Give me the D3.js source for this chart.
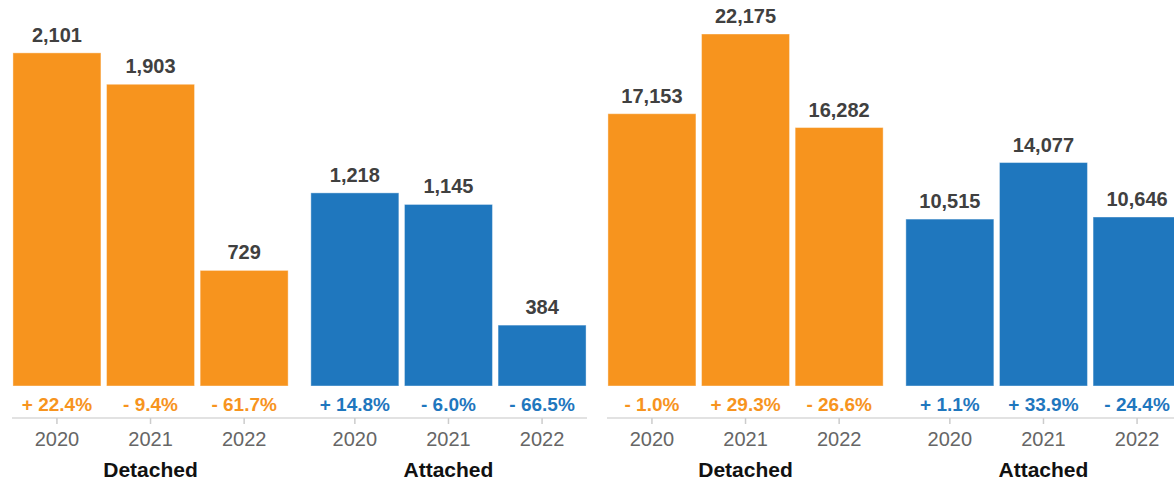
<!DOCTYPE html>
<html>
<head>
<meta charset="utf-8">
<script src="https://cdn.jsdelivr.net/npm/d3@7"></script>
<style>
  body { margin: 0; background: #fff; }
  svg { display: block; font-family: "Liberation Sans", Arial, Helvetica, sans-serif; }
</style>
</head>
<body>
<svg id="chart"></svg>
<script>
/*******************
 * Data
 *******************/
const years = ["2020", "2021", "2022"];
const types = ["Detached", "Attached"];

// left panel
const leftDetached = [2101, 1903, 729];
const leftAttached = [1218, 1145, 384];
const leftDetachedPct = ["+ 22.4%", "- 9.4%", "- 61.7%"];
const leftAttachedPct = ["+ 14.8%", "- 6.0%", "- 66.5%"];

// right panel
const rightDetached = [17153, 22175, 16282];
const rightAttached = [10515, 14077, 10646];
const rightDetachedPct = ["- 1.0%", "+ 29.3%", "- 26.6%"];
const rightAttachedPct = ["+ 1.1%", "+ 33.9%", "- 24.4%"];

const panelMax = [2220, 22175];

/*******************
 * Setup
 *******************/
const W = 1174, H = 482;
const colors = { Detached: "#F7941E", Attached: "#1F77BE" };

const svg = d3.select("#chart").attr("width", W).attr("height", H);

const panels = [
  { x: 12, max: panelMax[0], values: [leftDetached, leftAttached], pcts: [leftDetachedPct, leftAttachedPct] },
  { x: 607, max: panelMax[1], values: [rightDetached, rightAttached], pcts: [rightDetachedPct, rightAttachedPct] }
];

const panelWidth = 575;
const baseY = 386, topY = 34, axisY = 418;

const x0 = d3.scaleBand().domain(types).range([0, panelWidth]).paddingInner(0.07).paddingOuter(0);
const x1 = d3.scaleBand().domain(years).range([0, x0.bandwidth()]).paddingInner(0.06).paddingOuter(0.01);

panels.forEach(p => {
  const y = d3.scaleLinear().domain([0, p.max]).range([baseY, topY]);
  const g = svg.append("g").attr("transform", `translate(${p.x},0)`);

  // axis line
  g.append("line")
    .attr("x1", 0).attr("x2", panelWidth)
    .attr("y1", axisY).attr("y2", axisY)
    .attr("stroke", "#d9d9d9").attr("stroke-width", 1.5);

  types.forEach((t, ti) => {
    const rows = years.map((yr, i) => ({ year: yr, value: p.values[ti][i], pct: p.pcts[ti][i] }));
    const grp = g.append("g").attr("transform", `translate(${x0(t)},0)`);
    const cx = d => x1(d.year) + x1.bandwidth() / 2;

    grp.selectAll("rect")
      .data(rows)
      .enter()
      .append("rect")
      .attr("x", d => x1(d.year))
      .attr("width", x1.bandwidth())
      .attr("y", d => y(d.value))
      .attr("height", d => baseY - y(d.value))
      .attr("fill", colors[t])
      .attr("stroke", "#fff").attr("stroke-opacity", 0.4).attr("stroke-width", 1);

    // value labels
    grp.selectAll(".val")
      .data(rows)
      .enter()
      .append("text")
      .attr("class", "val")
      .attr("x", cx)
      .attr("y", d => y(d.value) - 11)
      .attr("text-anchor", "middle")
      .attr("font-size", "20px").attr("font-weight", "bold")
      .attr("fill", "#404040")
      .text(d => d3.format(",")(d.value));

    // change labels
    grp.selectAll(".pct")
      .data(rows)
      .enter()
      .append("text")
      .attr("class", "pct")
      .attr("x", cx)
      .attr("y", 411)
      .attr("text-anchor", "middle")
      .attr("font-size", "19px").attr("font-weight", "bold")
      .attr("fill", colors[t])
      .text(d => d.pct);

    // ticks
    grp.selectAll(".tick")
      .data(rows)
      .enter()
      .append("line")
      .attr("x1", cx)
      .attr("x2", cx)
      .attr("y1", axisY).attr("y2", axisY + 6)
      .attr("stroke", "#cccccc").attr("stroke-width", 1.5);

    // year labels
    grp.selectAll(".yr")
      .data(rows)
      .enter()
      .append("text")
      .attr("class", "yr")
      .attr("x", cx)
      .attr("y", 446)
      .attr("text-anchor", "middle")
      .attr("font-size", "20px")
      .attr("fill", "#666")
      .text(d => d.year);

    // group label
    grp.append("text")
      .attr("x", x0.bandwidth() / 2)
      .attr("y", 477)
      .attr("text-anchor", "middle")
      .attr("font-size", "21px").attr("font-weight", "bold")
      .attr("fill", "#111")
      .text(t);
  });
});
</script>
</body>
</html>
